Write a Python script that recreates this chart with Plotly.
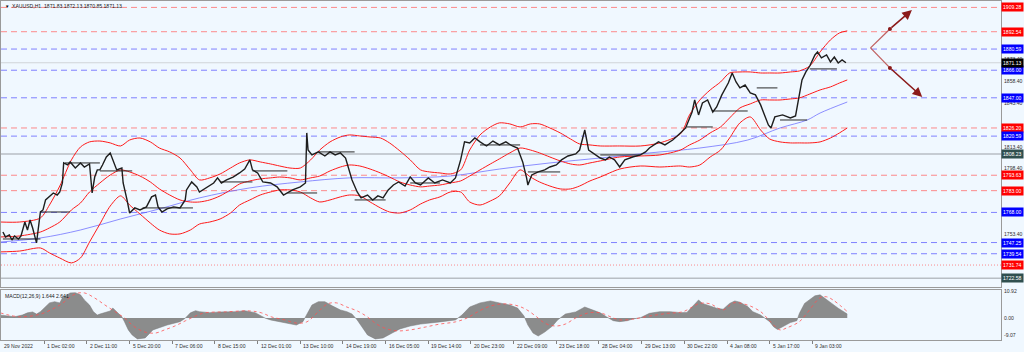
import plotly.graph_objects as go

# ---------------- data ----------------
PRICE_PATH = [(0,1754.5),(2,1751.1),(5,1752.5),(7,1749.0),(9,1751.8),(12,1749.7),(14,1751.8),(17,1761.4),(19,1755.9),
(21,1762.8),(23,1757.3),(25,1750.4),(26,1747.0),(29,1768.3),(31,1769.7),(33,1776.6),(36,1778.7),(39,1781.4),(42,1780.0),
(44,1782.1),(46,1788.3),(47,1802.1),(50,1800.7),(52,1802.8),(56,1798.6),(60,1802.1),(63,1799.3),(67,1801.4),(69,1781.4),
(71,1792.4),(73,1797.3),(75,1797.3),(77,1800.7),(80,1806.2),(83,1809.0),(85,1804.2),(88,1797.3),(92,1798.6),(93,1788.3),
(96,1776.6),(98,1767.6),(102,1771.1),(106,1769.7),(111,1771.8),(115,1778.7),(118,1780.0),(120,1771.8),(123,1768.3),
(127,1770.4),(132,1771.8),(137,1771.1),(141,1776.6),(142,1783.5),(146,1789.0),(150,1785.6),(152,1782.1),(158,1785.6),
(163,1788.3),(166,1791.8),(169,1788.3),(173,1790.4),(178,1792.4),(183,1795.2),(187,1797.9),(191,1804.2),(193,1797.3),
(197,1795.2),(201,1789.0),(207,1788.3),(212,1785.6),(217,1780.0),(221,1782.1),(224,1783.5),(230,1785.6),(234,1788.3),
(235,1822.8),(236,1811.0),(239,1807.6),(244,1809.7),(249,1806.9),(253,1809.7),(257,1807.6),(261,1809.0),(265,1805.5),
(267,1800.0),(270,1790.4),(274,1782.1),(277,1778.0),(282,1780.0),(286,1776.6),(290,1779.4),(294,1778.0),(298,1783.5),
(302,1786.9),(306,1789.0),(311,1786.2),(315,1792.4),(319,1788.3),(323,1786.9),(329,1791.8),(334,1788.3),(340,1790.4),
(346,1788.3),(350,1791.8),(354,1804.2),(357,1816.6),(361,1815.9),(365,1819.3),(369,1816.6),(374,1813.8),(379,1817.2),
(384,1814.5),(389,1816.6),(394,1813.8),(398,1812.4),(402,1802.8),(405,1791.8),(406,1786.9),(409,1793.8),(414,1795.9),
(419,1797.3),(423,1799.3),(428,1800.7),(432,1804.2),(437,1806.9),(443,1808.3),(446,1811.0),(450,1824.8),(453,1811.0),
(458,1807.6),(462,1805.5),(466,1804.2),(469,1806.2),(473,1804.2),(477,1799.3),(481,1804.2),(487,1806.2),(493,1807.6),
(497,1809.7),(500,1812.4),(507,1816.6),(512,1814.5),(518,1817.9),(524,1822.8),(528,1826.2),(533,1837.2),(535,1845.5),
(538,1835.2),(541,1843.4),(545,1845.5),(549,1837.2),(552,1840.7),(556,1849.0),(561,1857.2),(564,1864.1),(567,1857.9),
(570,1853.8),(574,1855.8),(578,1850.3),(582,1849.0),(586,1842.1),(589,1835.2),(592,1828.3),(594,1826.2),(597,1833.8),
(603,1835.2),(609,1833.1),(613,1834.5),(616,1849.0),(618,1859.3),(621,1864.8),(624,1868.9),(628,1876.5),(630,1878.6),
(633,1874.5),(637,1876.5),(640,1871.7),(643,1875.1),(646,1871.0),(649,1873.1),(652,1871.13)]

BAND_BARS = [-2,13,29,36,44,53,60,67,75,83,91,98,106,114,121,129,137,145,152,160,168,176,183,191,199,207,214,222,230,
238,245,253,261,268,276,284,292,299,307,315,323,330,338,346,354,361,369,377,384,392,400,408,415,423,431,439,446,454,462,
477,493,508,524,531,539,547,555,562,570,578,586,593,601,609,616,624,632,640,647,653]
BB_UPPER = [1761.4,1761.4,1764.2,1773.1,1786.2,1804.2,1813.1,1816.6,1817.2,1815.9,1813.8,1817.9,1819.3,1816.6,1812.4,
1809.7,1805.5,1797.3,1790.4,1791.8,1794.5,1798.6,1802.1,1804.2,1802.8,1801.4,1800.0,1798.6,1798.6,1804.2,1811.0,1816.6,
1820.0,1821.4,1820.7,1820.0,1819.3,1815.9,1810.4,1804.2,1797.3,1795.9,1795.2,1794.5,1797.3,1811.0,1821.4,1826.9,1829.7,
1829.0,1826.9,1829.0,1829.0,1826.2,1822.8,1818.6,1815.2,1814.5,1813.8,1813.8,1813.8,1815.9,1822.1,1835.2,1845.5,1852.4,
1857.9,1864.1,1864.8,1864.8,1864.1,1864.1,1864.1,1864.8,1865.5,1868.9,1878.6,1886.9,1891.7,1893.1]
BB_MIDDLE = [1751.1,1751.8,1754.5,1757.3,1761.4,1769.7,1774.5,1782.1,1788.3,1793.8,1797.3,1795.9,1793.1,1789.0,1784.2,
1780.0,1776.6,1775.2,1775.2,1776.6,1779.4,1783.5,1787.6,1789.7,1791.1,1791.8,1792.4,1791.8,1790.4,1791.8,1793.1,1796.6,
1799.3,1800.7,1800.0,1797.9,1795.2,1792.4,1789.0,1786.9,1785.6,1786.2,1786.9,1788.3,1789.7,1793.1,1797.3,1801.4,1804.9,
1809.0,1812.4,1811.0,1809.0,1806.2,1803.5,1801.4,1800.7,1802.1,1803.5,1806.2,1806.9,1807.6,1811.0,1814.5,1817.9,1822.8,
1826.9,1833.1,1840.0,1842.8,1845.5,1845.5,1845.5,1846.2,1846.9,1849.6,1852.4,1854.5,1857.2,1859.3]
BB_LOWER = [1740.8,1741.4,1743.5,1740.1,1736.6,1733.2,1736.6,1747.6,1760.0,1772.4,1779.4,1773.1,1766.9,1760.7,1755.9,
1753.2,1753.2,1755.9,1760.0,1761.4,1763.5,1767.6,1773.1,1776.6,1780.0,1782.1,1783.5,1783.5,1782.1,1778.0,1775.2,1776.6,
1778.7,1780.0,1779.4,1775.2,1771.1,1768.3,1767.6,1769.7,1773.8,1776.6,1778.7,1782.1,1782.1,1775.2,1773.1,1775.9,1779.4,
1788.3,1797.3,1792.4,1789.0,1786.2,1784.2,1784.2,1786.2,1789.7,1792.4,1797.9,1800.0,1799.3,1800.0,1799.3,1800.7,1806.2,
1811.0,1819.3,1829.7,1833.8,1824.8,1818.6,1816.6,1815.9,1815.9,1815.9,1816.6,1819.3,1822.8,1826.2]

MA_BARS = [-2,29,60,91,121,152,191,230,268,307,346,384,423,462,500,539,576,601,622,632,653]
MA_VALS = [1747.6,1750.4,1755.9,1763.5,1770.4,1778.0,1784.9,1789.0,1791.8,1791.8,1793.1,1797.9,1802.1,1805.5,1809.0,
1812.4,1817.9,1826.2,1831.7,1836.5,1844.1]

# short black horizontal levels: (start bar, end bar, price)
SEGMENTS = [(0,29,1749.7),(29,52,1768.3),(48,75,1802.1),(75,100,1796.6),(108,147,1771.1),(168,193,1789.0),
(193,220,1796.6),(220,243,1781.4),(244,272,1809.7),(272,296,1776.6),(315,338,1788.3),(369,400,1814.5),
(406,431,1795.9),(462,493,1807.6),(529,549,1826.9),(549,576,1837.9),(583,599,1853.8),(601,622,1831.7),(624,645,1866.9)]

RED_DASH = [1909.28, 1892.54, 1826.20, 1793.63, 1783.00]
RED_DOT = [1731.74]
BLUE_DASH = [1880.59, 1866.00, 1847.00, 1820.59, 1768.00, 1747.25, 1739.54]
GRAY_LEVELS = [1808.23, 1722.58]
CURRENT = 1871.13
PRICE_TICKS = [1903.40, 1888.40, 1873.40, 1858.40, 1843.40, 1813.40, 1798.40, 1753.40]

# arrows: (tail bar, tail price, mid bar, mid price, head bar, head price)
ARROWS = [(671, 1881.4, 686, 1894.4, 703, 1907.5), (671, 1881.4, 686, 1867.6, 711, 1847.6)]

MACD_HIST = [(-2,1.2),(4,0.8),(9,0.5),(15,1.2),(19,2.1),(23,2.5),(26,1.6),(29,2.6),(33,4.5),(36,6.2),(40,6.7),(44,6.2),
(46,8.2),(50,9.5),(52,10.3),(56,10.4),(60,9.5),(63,7.4),(67,5.3),(70,2.6),(73,1.2),(75,1.6),(79,2.1),(83,2.9),(85,4.1),
(88,2.6),(92,0.5),(94,-1.5),(97,-4.9),(100,-7.0),(104,-8.6),(110,-8.2),(116,-4.9),(127,-2.9),(137,-1.5),(141,-0.1),
(145,2.1),(149,3.0),(152,2.6),(160,2.2),(168,2.5),(180,2.6),(187,3.0),(195,2.2),(203,-0.1),(207,-0.8),(214,-1.5),
(222,-2.6),(227,-2.9),(232,-1.5),(236,2.1),(239,5.3),(244,6.7),(249,6.7),(255,4.9),(261,3.3),(266,2.6),(270,1.6),
(274,-0.8),(278,-4.1),(282,-7.0),(288,-8.6),(294,-8.2),(301,-6.2),(307,-4.5),(315,-3.3),(323,-2.5),(338,-1.6),
(350,-0.8),(355,1.2),(361,4.5),(369,6.2),(377,7.0),(384,6.2),(392,5.3),(398,4.1),(403,0.8),(406,-2.9),(410,-6.2),
(414,-7.4),(419,-5.8),(425,-3.3),(429,-0.8),(435,1.6),(443,2.5),(450,4.5),(456,3.3),(462,2.1),(467,0.4),(472,-1.1),
(477,-1.5),(483,-1.1),(487,-0.4),(493,0.1),(500,1.9),(508,2.6),(516,2.6),(524,2.2),(529,2.3),(534,5.3),(538,7.4),
(541,6.0),(547,4.9),(552,4.0),(557,3.6),(562,6.0),(566,7.0),(570,6.5),(576,4.7),(580,2.6),(586,1.2),(589,0.1),
(593,-1.5),(596,-3.6),(599,-4.7),(603,-3.6),(609,-1.9),(614,-1.1),(616,1.9),(620,6.0),(624,7.7),(628,9.1),(632,9.5),
(636,8.1),(641,6.0),(646,4.0),(650,2.6),(653,1.644)]

MACD_SIGNAL = [(-2,2.1),(13,0.5),(29,1.6),(44,5.3),(56,9.9),(63,10.3),(71,8.2),(79,5.3),(87,2.5),(94,0.0),(102,-3.7),
(110,-5.8),(118,-6.2),(125,-4.9),(133,-3.3),(141,-1.2),(149,0.8),(156,2.1),(172,2.5),(191,2.9),(200,2.1),(208,0.4),
(218,-0.8),(227,-2.1),(235,-1.6),(243,2.1),(251,5.8),(258,6.2),(266,4.5),(274,2.9),(282,0.4),(289,-2.5),(297,-4.5),
(305,-5.3),(315,-4.9),(327,-3.7),(338,-2.5),(350,-1.6),(359,0.0),(367,2.5),(377,4.9),(387,5.8),(396,5.3),(404,3.7),
(412,0.8),(419,-2.1),(427,-3.3),(435,-2.5),(443,0.0),(453,2.1),(462,2.1),(472,0.0),(477,-0.8),(487,-0.5),(500,0.8),
(514,1.9),(526,2.6),(539,6.0),(547,5.8),(557,3.3),(565,6.2),(576,5.3),(586,2.6),(591,0.0),(601,-4.9),(606,-4.1),
(616,-1.5),(622,2.1),(632,8.3),(637,8.7),(642,7.4),(653,2.641)]
MACD_TICKS = [10.92, 0.00]
MACD_BOTTOM_LABEL = -9.07

X_LABEL_BARS = [0,32,65,98,131,164,197,230,263,296,329,362,395,428,461,494,527,560,593,626]
X_LABELS = ["29 Nov 2022","1 Dec 02:00","2 Dec 11:00","5 Dec 20:00","7 Dec 06:00","8 Dec 15:00","12 Dec 01:00",
"13 Dec 10:00","14 Dec 19:00","16 Dec 05:00","19 Dec 14:00","20 Dec 23:00","22 Dec 09:00","23 Dec 18:00",
"28 Dec 04:00","29 Dec 13:00","30 Dec 22:00","4 Jan 08:00","5 Jan 17:00","9 Jan 03:00"]

TITLE = "XAUUSD,H1  1871.83 1872.13 1870.85 1871.13"
MACD_TITLE = "MACD(12,26,9) 1.644 2.641"

# ---------------- figure ----------------
BG = "#F0F8FF"
FONT = "Liberation Sans"
FS = 5.1
XR = [-1.47, 771.9]

fig = go.Figure()

# MA (blue)
fig.add_trace(go.Scatter(x=MA_BARS, y=MA_VALS, mode="lines",
                         line=dict(color="rgba(90,90,255,0.75)", width=0.9, shape="spline"),
                         xaxis="x", yaxis="y", hoverinfo="skip"))
# Bollinger bands
for arr in (BB_UPPER, BB_MIDDLE, BB_LOWER):
    fig.add_trace(go.Scatter(x=BAND_BARS, y=arr, mode="lines",
                             line=dict(color="#ff1a1a", width=1.0, shape="spline", smoothing=0.8),
                             xaxis="x", yaxis="y", hoverinfo="skip"))
# short horizontal segments
for b0, b1, p in SEGMENTS:
    fig.add_trace(go.Scatter(x=[b0, b1], y=[p, p], mode="lines",
                             line=dict(color="#2a2a2a", width=1.0), xaxis="x", yaxis="y", hoverinfo="skip"))
# price
fig.add_trace(go.Scatter(x=[b for b, _ in PRICE_PATH], y=[v for _, v in PRICE_PATH], mode="lines",
                         line=dict(color="#1e1e1e", width=1.4), xaxis="x", yaxis="y"))

# arrows
for tb, tp, mb, mp, hb, hp in ARROWS:
    fig.add_trace(go.Scatter(x=[tb, mb], y=[tp, mp], mode="lines",
                             line=dict(color="#c06060", width=1.3), xaxis="x", yaxis="y", hoverinfo="skip"))
    fig.add_trace(go.Scatter(x=[mb], y=[mp], mode="markers",
                             marker=dict(color="#8b1a1a", size=4), xaxis="x", yaxis="y", hoverinfo="skip"))
    fig.add_annotation(x=hb, y=hp, ax=mb, ay=mp, xref="x", yref="y", axref="x", ayref="y",
                       showarrow=True, arrowhead=2, arrowsize=1.2, arrowwidth=1.6, arrowcolor="#8b1a1a", text="")

# MACD
fig.add_trace(go.Scatter(x=[b for b, _ in MACD_HIST], y=[v for _, v in MACD_HIST], mode="lines",
                         fill="tozeroy", fillcolor="rgba(128,128,128,0.9)",
                         line=dict(color="rgba(120,120,120,1)", width=0.5),
                         xaxis="x2", yaxis="y2", hoverinfo="skip"))
fig.add_trace(go.Scatter(x=[b for b, _ in MACD_SIGNAL], y=[v for _, v in MACD_SIGNAL], mode="lines",
                         line=dict(color="#ff5050", width=0.8, dash="dot", shape="spline"),
                         xaxis="x2", yaxis="y2", hoverinfo="skip"))

shapes = []
def hline(p, color, dash, width=1.0):
    shapes.append(dict(type="line", xref="paper", x0=0, x1=1, yref="y", y0=p, y1=p,
                       line=dict(color=color, width=width, dash=dash), layer="below"))

for p in RED_DASH:
    hline(p, "rgba(255,110,110,0.8)", "6px,4px")
for p in RED_DOT:
    hline(p, "rgba(255,110,110,0.8)", "1px,2px")
for p in BLUE_DASH:
    hline(p, "rgba(100,100,255,0.8)", "6px,4px")
for p in GRAY_LEVELS:
    hline(p, "#b8bec4", "solid", 1.5)
hline(CURRENT, "#d0d4d8", "solid", 1.0)

annotations = []
def box(p, txt, bg, yref="y"):
    annotations.append(dict(xref="paper", x=1, xanchor="left", xshift=0, yref=yref, y=p, yanchor="middle",
                            text=txt, showarrow=False, bgcolor=bg, borderpad=1,
                            font=dict(family=FONT, size=FS, color="white")))
def tick(p, txt, yref="y", anchor="middle"):
    annotations.append(dict(xref="paper", x=1, xanchor="left", xshift=1, yref=yref, y=p, yanchor=anchor,
                            text=txt, showarrow=False, font=dict(family=FONT, size=FS, color="#303030")))

for p in PRICE_TICKS:
    tick(p, f"{p:.2f}")
for p in RED_DASH + RED_DOT:
    box(p, f"{p:.2f}", "#ff0000")
for p in BLUE_DASH:
    box(p, f"{p:.2f}", "#0000ff")
for p in GRAY_LEVELS:
    box(p, f"{p:.2f}", "#2f4f4f")
box(CURRENT, f"{CURRENT:.2f}", "#000000")
for v in MACD_TICKS:
    tick(v, f"{v:.2f}", yref="y2")
tick(-9.05, f"{MACD_BOTTOM_LABEL:.2f}", yref="y2", anchor="bottom")

for b, t in zip(X_LABEL_BARS, X_LABELS):
    annotations.append(dict(xref="x2", x=b, xanchor="left", xshift=1 if b else -1, yref="paper", y=0,
                            yanchor="top", yshift=-1, text=t, showarrow=False,
                            font=dict(family=FONT, size=FS, color="#303030")))

annotations.append(dict(xref="paper", x=0, xanchor="left", xshift=2, yref="paper", y=1, yanchor="top", yshift=-1,
                        text="▼", showarrow=False, font=dict(family=FONT, size=4.5, color="#000")))
annotations.append(dict(xref="paper", x=0, xanchor="left", xshift=9, yref="paper", y=1, yanchor="top", yshift=0,
                        text=TITLE, showarrow=False, font=dict(family=FONT, size=FS, color="#202020")))
annotations.append(dict(xref="paper", x=0, xanchor="left", xshift=2, yref="y2", y=11.5, yanchor="top", yshift=-1,
                        text=MACD_TITLE, showarrow=False, font=dict(family=FONT, size=FS, color="#202020")))

axis_common = dict(showgrid=False, zeroline=False, showline=True, linecolor="#9a9a9a", linewidth=1, mirror=True)

fig.update_layout(
    width=1024, height=352, autosize=False,
    margin=dict(l=1, r=23, t=1, b=12),
    paper_bgcolor=BG, plot_bgcolor=BG,
    showlegend=False,
    xaxis=dict(domain=[0, 1], range=XR, anchor="y", showticklabels=False, ticks="", **axis_common),
    yaxis=dict(domain=[0.1563, 1], range=[1716.6, 1913.7], showticklabels=False, ticks="", **axis_common),
    xaxis2=dict(domain=[0, 1], range=XR, anchor="y2", showticklabels=False, ticks="outside", ticklen=3,
                tickcolor="#808080", tickvals=X_LABEL_BARS[1:], **axis_common),
    yaxis2=dict(domain=[0, 0.1475], range=[-9.05, 11.5], showticklabels=False, ticks="", **axis_common),
    shapes=shapes, annotations=annotations,
)

fig.write_html("out.html")
